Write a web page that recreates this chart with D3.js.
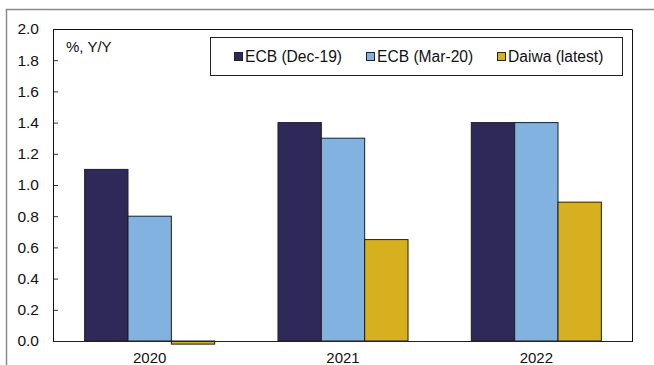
<!DOCTYPE html>
<html>
<head>
<meta charset="utf-8">
<script src="https://cdn.jsdelivr.net/npm/d3@7"></script>
<style>
  html, body { margin: 0; padding: 0; background: #fff; }
  svg { display: block; font-family: "Liberation Sans", Arial, sans-serif; }
</style>
</head>
<body>
<svg id="chart" width="654" height="365"></svg>
<script>
// Euro area inflation forecasts, % Y/Y
const years = ["2020", "2021", "2022"];
const seriesNames = ["ECB (Dec-19)", "ECB (Mar-20)", "Daiwa (latest)"];
const ecbDec19 = [1.1, 1.4, 1.4];
const ecbMar20 = [0.8, 1.3, 1.4];
const daiwaLatest = [-0.02, 0.65, 0.89];
const yTicks = [0, 0.2, 0.4, 0.6, 0.8, 1.0, 1.2, 1.4, 1.6, 1.8, 2.0];

const seriesValues = [ecbDec19, ecbMar20, daiwaLatest];
const colors = ["#2e2959", "#82b2e0", "#d6b01f"];

const svg = d3.select("#chart");
const plot = { left: 53, top: 29, right: 633, bottom: 341 };

// outer frame
svg.append("path")
  .attr("d", `M6.5,365 V9.5 H654`)
  .attr("fill", "none")
  .attr("stroke", "#8a8a8a")
  .attr("stroke-width", 1.5);

const y = d3.scaleLinear().domain([0, 2]).range([plot.bottom, plot.top]);
const x0 = d3.scaleBand().domain(years).range([plot.left, plot.right]).padding(0);
const x1 = d3.scaleBand().domain(seriesNames).range([0, x0.bandwidth()])
  .paddingInner(0).paddingOuter(0.73);

// bars
const rows = years.map((yr, i) => ({
  year: yr,
  vals: seriesNames.map((s, j) => ({ series: s, idx: j, value: seriesValues[j][i] }))
}));

const groups = svg.append("g").selectAll("g")
  .data(rows).join("g")
  .attr("transform", d => `translate(${x0(d.year)},0)`);

groups.selectAll("rect")
  .data(d => d.vals).join("rect")
  .attr("x", d => x1(d.series))
  .attr("width", x1.bandwidth())
  .attr("y", d => Math.min(y(d.value), y(0)))
  .attr("height", d => Math.abs(y(d.value) - y(0)))
  .attr("fill", d => colors[d.idx])
  .attr("stroke", "#1e1e1e")
  .attr("stroke-width", 1);

// y axis with inward ticks
const yAxis = svg.append("g")
  .attr("transform", `translate(${plot.left},0)`)
  .call(d3.axisRight(y).tickValues(yTicks).tickSize(5).tickFormat(d3.format(".1f")));
yAxis.select(".domain").remove();
yAxis.selectAll(".tick line").attr("stroke", "#333");
yAxis.selectAll(".tick text")
  .attr("x", -14)
  .attr("text-anchor", "end")
  .attr("font-size", 15.5)
  .attr("fill", "#111")
  .attr("font-family", "Liberation Sans, Arial, sans-serif");

// plot border (left, top, right)
svg.append("path")
  .attr("d", `M${plot.left + 0.5},${plot.bottom} V${plot.top + 0.5} H${plot.right - 0.5} V${plot.bottom}`)
  .attr("fill", "none")
  .attr("stroke", "#111")
  .attr("stroke-width", 1);

// baseline
svg.append("line")
  .attr("x1", plot.left).attr("x2", plot.right)
  .attr("y1", y(0) + 0.5).attr("y2", y(0) + 0.5)
  .attr("stroke", "#222").attr("stroke-width", 1);

// x axis labels
const xAxis = svg.append("g")
  .attr("transform", `translate(0,${plot.bottom})`)
  .call(d3.axisBottom(x0).tickSize(0).tickPadding(11));
xAxis.select(".domain").remove();
xAxis.selectAll(".tick text")
  .attr("font-size", 15)
  .attr("fill", "#111")
  .attr("font-family", "Liberation Sans, Arial, sans-serif");

// unit label
svg.append("text")
  .attr("x", 66).attr("y", 52)
  .attr("font-size", 15)
  .attr("fill", "#111")
  .text("%, Y/Y");

// legend
const legend = svg.append("g");
legend.append("rect")
  .attr("x", 210.5).attr("y", 37.5)
  .attr("width", 412).attr("height", 38)
  .attr("fill", "#fff")
  .attr("stroke", "#222");
const legendX = [234, 366, 497];
seriesNames.forEach((s, j) => {
  legend.append("rect")
    .attr("x", legendX[j] + 0.5).attr("y", 52.5)
    .attr("width", 8).attr("height", 8)
    .attr("fill", colors[j])
    .attr("stroke", "#222");
  legend.append("text")
    .attr("x", legendX[j] + 11).attr("y", 62)
    .attr("font-size", 15.6)
    .attr("fill", "#111")
    .text(s);
});
</script>
</body>
</html>
